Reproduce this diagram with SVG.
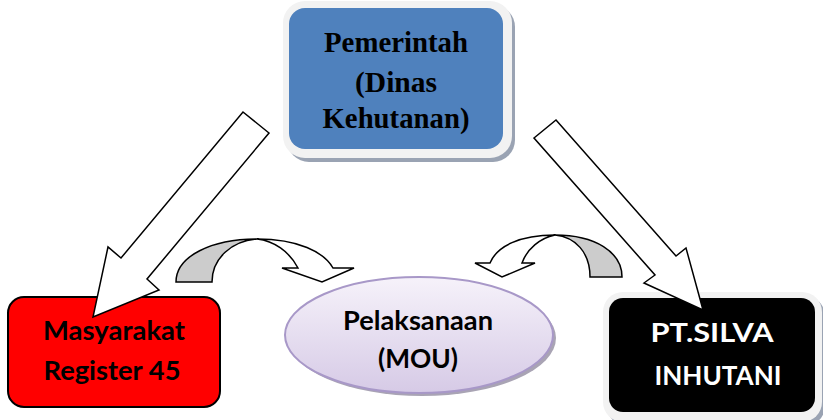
<svg xmlns="http://www.w3.org/2000/svg" width="823" height="420" viewBox="0 0 823 420">
<defs>
<linearGradient id="lav" x1="0" y1="0" x2="0" y2="1">
<stop offset="0" stop-color="#f6f2fa"/>
<stop offset="1" stop-color="#d6cae6"/>
</linearGradient>
<style>
.shadow{fill:#9aa3b3;}
.frame{fill:#f2f2f2;}
.arrow{fill:#ffffff;stroke:#000000;stroke-width:1.5;stroke-linejoin:miter;}
.back{fill:#cccccc;stroke:#000000;stroke-width:1.5;}
.serif{font-family:"Liberation Serif","Times New Roman",serif;font-weight:bold;font-size:29px;fill:#000000;text-anchor:middle;}
.sans{font-family:Lato,"Open Sans",sans-serif;font-weight:bold;font-size:27px;text-anchor:middle;}
</style>
</defs>
<g id="pemerintah">
<rect class="shadow" x="287" y="5" width="228" height="157" rx="22"/>
<rect class="frame" x="283" y="1" width="229" height="157" rx="22"/>
<rect x="289" y="8" width="214" height="141" rx="16" fill="#4f81bd"/>
<text class="serif" x="396" y="52" textLength="144" lengthAdjust="spacingAndGlyphs">Pemerintah</text>
<text class="serif" x="396" y="92" textLength="82" lengthAdjust="spacingAndGlyphs">(Dinas</text>
<text class="serif" x="396" y="128" textLength="147" lengthAdjust="spacingAndGlyphs">Kehutanan)</text>
</g>
<g id="masyarakat">
<rect x="8" y="297" width="212" height="110" rx="16" fill="#ff0000" stroke="#000000" stroke-width="2"/>
<text class="sans" x="114" y="340" fill="#000000" textLength="142" lengthAdjust="spacingAndGlyphs">Masyarakat</text>
<text class="sans" x="112" y="380" fill="#000000" textLength="137" lengthAdjust="spacingAndGlyphs">Register 45</text>
</g>
<g id="pelaksanaan">
<ellipse cx="422" cy="338" rx="134" ry="58" fill="#a9a4b4"/>
<ellipse cx="419" cy="335" rx="134" ry="58" fill="url(#lav)" stroke="#a898c8" stroke-width="2"/>
<text class="sans" x="418" y="330" fill="#000000" textLength="150" lengthAdjust="spacingAndGlyphs">Pelaksanaan</text>
<text class="sans" x="418" y="368" fill="#000000" textLength="80" lengthAdjust="spacingAndGlyphs">(MOU)</text>
</g>
<g id="silva">
<rect class="shadow" x="607" y="296" width="218" height="130" rx="20"/>
<rect class="frame" x="603" y="292" width="219" height="130" rx="20"/>
<rect x="609" y="298" width="206" height="114" rx="14" fill="#000000"/>
<text class="sans" x="712" y="342" fill="#ffffff" textLength="123" lengthAdjust="spacingAndGlyphs">PT.SILVA</text>
<text class="sans" x="718" y="385" fill="#ffffff" textLength="127" lengthAdjust="spacingAndGlyphs">INHUTANI</text>
</g>
<g id="connectors">
<polygon class="arrow" points="243,112 269,133 147,279 159,290 93,317 108,247 121,258"/>
<polygon class="arrow" points="556,120 676,256 686,248 703,310 644,283 655,275 534,138"/>
<path class="back" d="M176,282 C176,256 212,239 257,239 C232,241 212,258 212,282 Z"/>
<path class="arrow" d="M257,239 C298,239 324,252 333,268 L354,268 L322,282 L282,268 L298,268 C289,251 274,241 257,239 Z"/>
<path class="back" d="M622,277 C622,252 595,235 555,235 C575,237 590,252 590,277 Z"/>
<path class="arrow" d="M555,235 C520,235 497,246 490,263 L475,263 L502,277 L535,263 L522,263 C527,249 540,238 555,235 Z"/>
</g>
</svg>
